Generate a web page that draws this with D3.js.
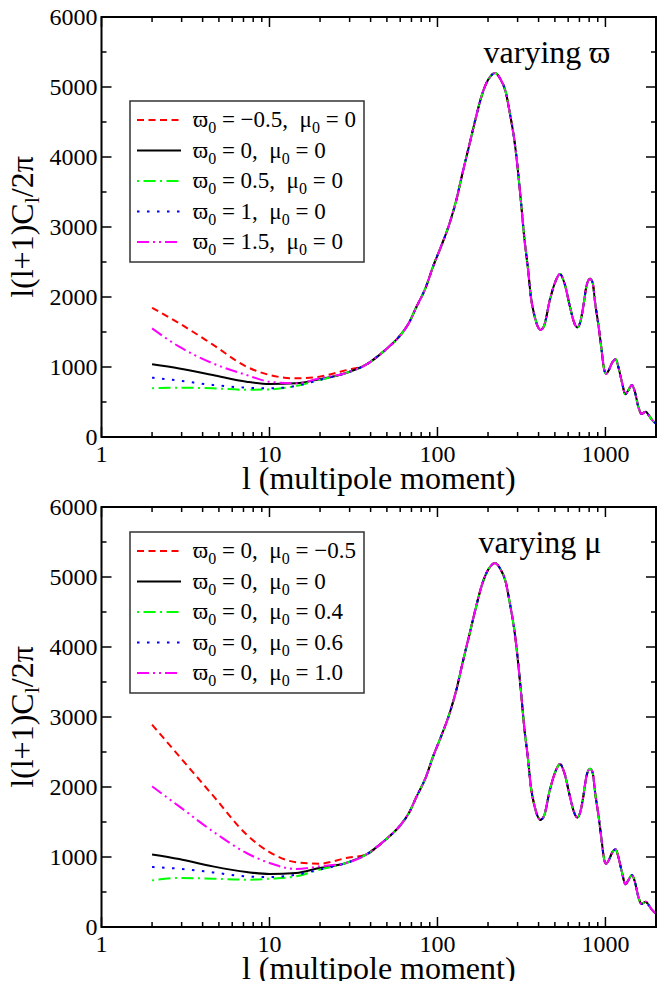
<!DOCTYPE html>
<html><head><meta charset="utf-8">
<script src="https://cdn.jsdelivr.net/npm/d3@7"></script>
</head>
<body style="margin:0;background:#fff">
<svg id="chart" width="658" height="981" style="display:block"></svg>
<script>
// ---- data ----
const ellHigh = [38,45,52,60,68,75,85,94,105,118,130,141,155,170,183,195,208,220,235,256,270,287,300,315,330,345,360,380,395,410,430,467,500,536,570,615,650,679,710,738,770,810,840,870,906,949,980,1007,1050,1100,1151,1200,1260,1313,1370,1438,1500,1570,1642,1700,1742,1800,1900,2000];
const clHigh = [1040,1170,1300,1450,1640,1860,2130,2430,2720,3050,3400,3770,4180,4580,4870,5050,5160,5200,5130,4910,4620,4240,3850,3330,2810,2430,2000,1710,1580,1530,1580,1960,2200,2330,2200,1860,1640,1565,1650,1860,2150,2260,2200,1900,1620,1240,980,900,960,1070,1110,980,760,610,670,743,640,430,329,350,361,320,240,190];
const ellLow = [2,2.9,4.6,7.3,10,14.4,19.8,28.6];

// top panel (varying varpi)
const topNeg05 = [1845,1625,1320,1005,886,838,862,955];
const top0     = [1040,980,886,790,757,767,824,915];
const top05    = [695,705,695,675,680,729,814,915];
const top1     = [848,805,743,705,695,729,814,915];
const top15    = [1552,1290,1052,886,790,767,838,915];
const topLabels = ["\u22120.5","0","0.5","1","1.5"];

// bottom panel (varying mu)
const botNeg05 = [2890,2440,1880,1321,1070,925,905,985];
const bot0     = [1037,971,866,786,757,771,843,915];
const bot04    = [666,700,690,676,690,723,819,915];
const bot06    = [857,833,780,723,714,747,819,915];
const bot10    = [2009,1723,1366,1057,914,829,866,915];
const botLabels = ["\u22120.5","0","0.4","0.6","1.0"];

const yTicks = [0,1000,2000,3000,4000,5000,6000];
const xTickLabels = ["1","10","100","1000"];

// ---- styles ----
const FONT = "Liberation Serif";
const colors = ["#ff0000","#000000","#00ff00","#0000ff","#ff00ff"];
const dashes = ["7,4.5",null,"2,4.5,12,4.5","2.5,7.5","12,4,2,4,2,4"];

const svg = d3.select("#chart");

const X0 = 101.5, X1 = 656;
const x = d3.scaleLog().domain([1,2000]).range([X0,X1]);

function txt(g){ return g.append("text").attr("font-family",FONT).attr("fill","#000"); }

function panel(top, bottom, lowSeries, legendTop, labels, legendKind, annot, annotX, annotY){
  const y = d3.scaleLinear().domain([0,6000]).range([bottom, top]);
  const g = svg.append("g");
  const line = d3.line().x(d=>x(d[0])).y(d=>y(d[1])).curve(d3.curveMonotoneX);
  lowSeries.forEach((vals,i)=>{
    const pts = ellLow.map((l,k)=>[l, vals[k]]).concat(ellHigh.map((l,k)=>[l, clHigh[k]]));
    g.append("path").attr("d", line(pts)).attr("fill","none")
      .attr("stroke", colors[i]).attr("stroke-width", 2)
      .attr("stroke-dasharray", dashes[i]);
  });
  g.append("rect").attr("x",X0).attr("y",top).attr("width",X1-X0).attr("height",bottom-top)
    .attr("fill","none").attr("stroke","#000").attr("stroke-width",2);
  const yMinor = d3.range(500,6000,1000);
  [[yTicks,10],[yMinor,5]].forEach(([arr,len])=>{
    arr.forEach(v=>{
      g.append("line").attr("x1",X0).attr("x2",X0+len).attr("y1",y(v)).attr("y2",y(v)).attr("stroke","#000").attr("stroke-width",1.5);
      g.append("line").attr("x1",X1).attr("x2",X1-len).attr("y1",y(v)).attr("y2",y(v)).attr("stroke","#000").attr("stroke-width",1.5);
    });
  });
  yTicks.forEach(v=>{
    txt(g).attr("x",X0-4).attr("y",y(v)+8).attr("text-anchor","end")
      .attr("font-size",24).text(d3.format("d")(v));
  });
  const xMajor = [1,10,100,1000];
  const xMinor = [];
  [1,10,100,1000].forEach(d=>{ for(let m=2;m<=9;m++){ if(d*m<=2000) xMinor.push(d*m);} });
  [[xMajor,10],[xMinor,5]].forEach(([arr,len])=>{
    arr.forEach(v=>{
      g.append("line").attr("x1",x(v)).attr("x2",x(v)).attr("y1",bottom).attr("y2",bottom-len).attr("stroke","#000").attr("stroke-width",1.5);
      g.append("line").attr("x1",x(v)).attr("x2",x(v)).attr("y1",top).attr("y2",top+len).attr("stroke","#000").attr("stroke-width",1.5);
    });
  });
  xMajor.forEach((v,i)=>{
    txt(g).attr("x",x(v)).attr("y",bottom+25).attr("text-anchor","middle")
      .attr("font-size",24).text(xTickLabels[i]);
  });
  txt(g).attr("x",(X0+X1)/2).attr("y",bottom+52).attr("text-anchor","middle")
    .attr("font-size",32).text("l (multipole moment)");
  const yt = txt(g).attr("transform",`translate(33,${(top+bottom)/2}) rotate(-90)`)
    .attr("text-anchor","middle").attr("font-size",32);
  yt.append("tspan").text("l(l+1)C");
  yt.append("tspan").attr("font-size",22).attr("dy",6).text("l");
  yt.append("tspan").attr("dy",-6).text("/2\u03c0");
  txt(g).attr("x",annotX).attr("y",annotY).attr("text-anchor","middle")
    .attr("font-size",32).text(annot);
  // legend
  const lx = 130, lw = 234, rowH = 30.5;
  const lh = rowH*4 + 39;
  g.append("rect").attr("x",lx).attr("y",legendTop).attr("width",lw).attr("height",lh)
    .attr("fill","#fff").attr("stroke","#333").attr("stroke-width",1.5);
  labels.forEach((lab,i)=>{
    const cy = legendTop + 19 + i*rowH;
    g.append("line").attr("x1",137).attr("x2",181).attr("y1",cy).attr("y2",cy)
      .attr("stroke",colors[i]).attr("stroke-width",2).attr("stroke-dasharray",dashes[i]);
    const t = txt(g).attr("x",193).attr("y",cy+7).attr("font-size",23);
    const om = legendKind==="om" ? lab : "0";
    const mu = legendKind==="om" ? "0" : lab;
    t.append("tspan").text("\u03d6");
    t.append("tspan").attr("font-size",16).attr("dy",6).text("0");
    t.append("tspan").attr("dy",-6).text(" = " + om + ",\u00a0 \u03bc");
    t.append("tspan").attr("font-size",16).attr("dy",6).text("0");
    t.append("tspan").attr("dy",-6).text(" = " + mu);
  });
}

panel(17, 437, [topNeg05, top0, top05, top1, top15], 101, topLabels, "om", "varying \u03d6", 547, 63);
panel(507, 927, [botNeg05, bot0, bot04, bot06, bot10], 532, botLabels, "mu", "varying \u03bc", 540, 553);
</script>
</body></html>
